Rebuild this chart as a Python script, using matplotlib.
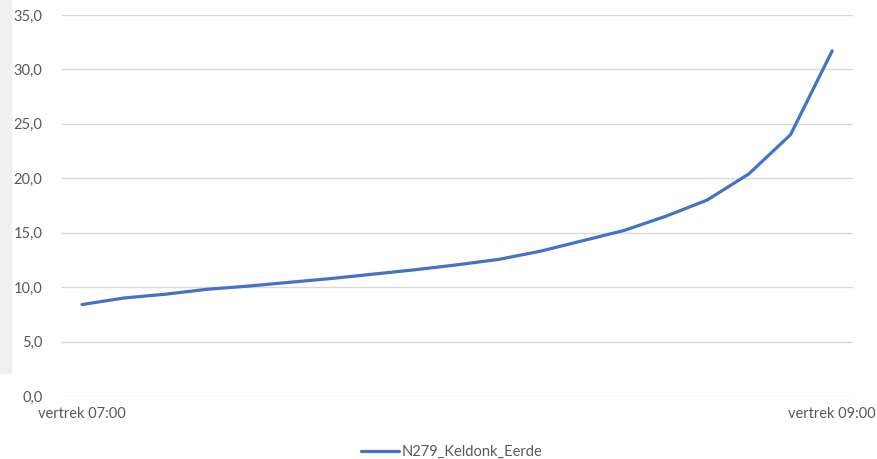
import numpy as np
import matplotlib.pyplot as plt
from matplotlib.patches import Rectangle

# Travel time per departure moment (19 departures between 07:00 and 09:00)
series_name = "N279_Keldonk_Eerde"
values = [8.4, 9.0, 9.35, 9.8, 10.1, 10.45, 10.8, 11.2, 11.6, 12.05,
          12.55, 13.3, 14.25, 15.2, 16.5, 18.0, 20.4, 24.0, 31.7]
first_label = "vertrek 07:00"
last_label = "vertrek 09:00"
y_ticks = [0, 5, 10, 15, 20, 25, 30, 35]

text_color = "#595959"
grid_color = "#d9d9d9"
line_color = "#4472C4"
plt.rcParams['font.family'] = ['Lato', 'DejaVu Sans']

fig = plt.figure(figsize=(8.77, 4.59), dpi=100)
ax = fig.add_axes([62 / 877, 1 - 396 / 459, (853 - 62) / 877, (396 - 15) / 459])

# grey strip at the far left of the screenshot
fig.patches.append(Rectangle((0, 1 - 373 / 459), 11 / 877, 373 / 459,
                             transform=fig.transFigure, color="#f0f0f0", zorder=0))

x = np.arange(len(values))
ax.plot(x, values, color=line_color, lw=2.3, solid_capstyle='round',
        solid_joinstyle='round', label=series_name, zorder=3)

ax.set_ylim(0, 35)
ax.set_xlim(-0.48, len(values) - 1 + 0.5)
ax.set_yticks(y_ticks)
ax.set_yticklabels([f"{v:.1f}".replace(".", ",") for v in y_ticks])
ax.set_xticks([0, len(values) - 1])
ax.set_xticklabels([first_label, last_label])

ax.grid(axis='y', color=grid_color, lw=1)
ax.set_axisbelow(True)
for s in ax.spines.values():
    s.set_visible(False)
ax.tick_params(axis='both', length=0, colors=text_color, labelsize=10.5)
ax.tick_params(axis='y', pad=14)
ax.tick_params(axis='x', pad=8)

leg = fig.legend(loc='center', bbox_to_anchor=(452 / 877, 1 - 452 / 459),
                 frameon=False, fontsize=10.5, handlelength=2.6, handletextpad=0.2)
for t in leg.get_texts():
    t.set_color(text_color)

fig.savefig("out.png", dpi=100)
